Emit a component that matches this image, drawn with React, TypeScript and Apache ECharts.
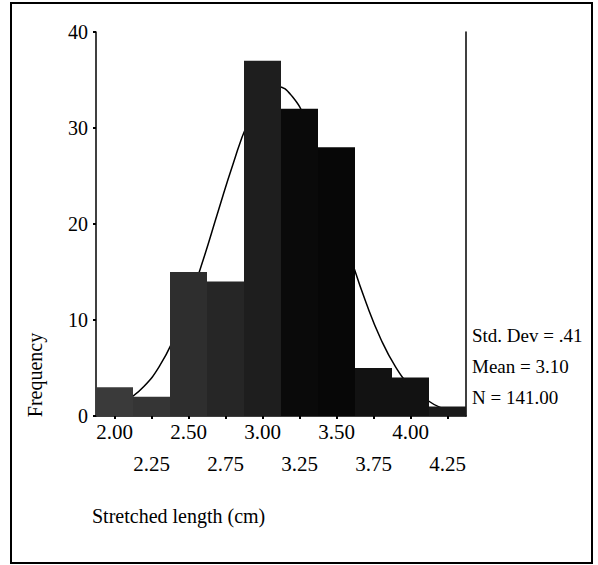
import React, { useEffect, useRef } from "react";
import * as echarts from "echarts";

// Histogram bins (bin centres, cm) and frequencies
const binLabels = ["2.00", "2.25", "2.50", "2.75", "3.00", "3.25", "3.50", "3.75", "4.00", "4.25"];
const frequencies = [3, 2, 15, 14, 37, 32, 28, 5, 4, 1];

// Fitted normal curve (x in cm, y in frequency)
const curveX = [1.9, 2.0, 2.1, 2.2, 2.3, 2.4, 2.5, 2.6, 2.7, 2.8, 2.9, 3.0, 3.1, 3.2, 3.3, 3.4, 3.5, 3.6, 3.7, 3.8, 3.9, 4.0, 4.1, 4.2, 4.3, 4.35];
const curveY = [0.5, 0.9, 1.8, 3.1, 5.1, 8.0, 11.8, 16.3, 21.3, 26.2, 30.5, 33.3, 34.3, 33.3, 30.5, 26.2, 21.3, 16.3, 11.8, 8.0, 5.1, 3.1, 1.8, 0.9, 0.5, 0.3];

// Axis tick values
const yTicks = [0, 10, 20, 30, 40];

// Summary statistics
const statLines = ["Std. Dev = .41", "Mean = 3.10", "N = 141.00"];
const yAxisTitle = "Frequency";
const xAxisTitle = "Stretched length (cm)";

const barColors = ["#3a3a3a", "#353535", "#2e2e2e", "#262626", "#1e1e1e", "#0a0a0a", "#070707", "#121212", "#121212", "#1a1a1a"];

const FONT = "'Liberation Serif', 'Times New Roman', serif";

export default function App() {
  const ref = useRef<HTMLDivElement>(null);

  useEffect(() => {
    if (!ref.current) return;
    const chart = echarts.init(ref.current, undefined, { renderer: "svg" });
    const statTexts = statLines.map((t, i) => ({
      type: "text",
      left: 472,
      top: 337 + i * 31 - 11,
      style: { text: t, font: `19px ${FONT}`, fill: "#000" },
    }));
    chart.setOption({
      animation: false,
      backgroundColor: "#fff",
      grid: { left: 96, right: 132, top: 32, bottom: 149, containLabel: false },
      xAxis: [
        {
          type: "category",
          data: binLabels,
          position: "bottom",
          axisLine: { show: true, lineStyle: { color: "#000", width: 1.5 } },
          axisTick: { show: true, alignWithLabel: true, length: 3, lineStyle: { color: "#000", width: 2 } },
          axisLabel: {
            interval: 0,
            color: "#000",
            fontFamily: FONT,
            fontSize: 21,
            lineHeight: 32,
            margin: 0,
            formatter: (v: string, i: number) => (i % 2 === 1 ? "\n" + v : v),
          },
          splitLine: { show: false },
        },
        {
          type: "value",
          min: 1.875,
          max: 4.375,
          show: false,
        },
      ],
      yAxis: [
        {
          type: "value",
          min: yTicks[0],
          max: yTicks[yTicks.length - 1],
          interval: 10,
          position: "left",
          axisLine: { show: true, lineStyle: { color: "#000", width: 1.5 } },
          axisTick: { show: true, length: 3, lineStyle: { color: "#000", width: 2 } },
          axisLabel: { color: "#000", fontFamily: FONT, fontSize: 20, margin: 8 },
          splitLine: { show: false },
        },
        {
          type: "value",
          min: 0,
          max: 40,
          interval: 10,
          position: "right",
          axisLine: { show: true, lineStyle: { color: "#000", width: 1.5 } },
          axisTick: { show: false },
          axisLabel: { show: false },
          splitLine: { show: false },
        },
      ],
      series: [
        {
          type: "line",
          xAxisIndex: 1,
          yAxisIndex: 0,
          smooth: true,
          showSymbol: false,
          symbol: "none",
          lineStyle: { color: "#000", width: 1.5 },
          data: curveX.map((x, i) => [x, curveY[i]]),
          z: 1,
        },
        {
          type: "bar",
          xAxisIndex: 0,
          yAxisIndex: 0,
          barCategoryGap: "0%",
          barWidth: "100%",
          data: frequencies.map((v, i) => ({ value: v, itemStyle: { color: barColors[i] } })),
          z: 2,
        },
      ],
      graphic: [
        {
          type: "rect",
          shape: { x: 11, y: 3, width: 581, height: 560 },
          style: { fill: "none", stroke: "#000", lineWidth: 2 },
          silent: true,
        },
        {
          type: "text",
          x: 35,
          y: 375,
          rotation: Math.PI / 2,
          style: { text: yAxisTitle, font: `20px ${FONT}`, fill: "#000", align: "center", verticalAlign: "middle" },
        },
        {
          type: "text",
          left: 92,
          top: 506,
          style: { text: xAxisTitle, font: `20px ${FONT}`, fill: "#000" },
        },
        ...statTexts,
      ],
    });
    return () => chart.dispose();
  }, []);

  return (
    <div
      ref={ref}
      style={{ position: "fixed", left: 0, top: 0, width: 598, height: 565, background: "#fff" }}
    />
  );
}
